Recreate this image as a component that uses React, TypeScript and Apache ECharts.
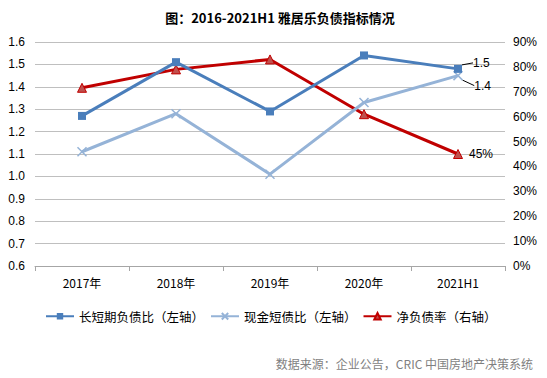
import React, { useEffect, useRef } from "react";
import * as echarts from "echarts";

const categories = ["2017年", "2018年", "2019年", "2020年", "2021H1"];
const longShortRatio = [1.27, 1.51, 1.29, 1.54, 1.48];
const cashShortDebt = [1.11, 1.28, 1.01, 1.33, 1.45];
const netDebtRatio = [71.6, 79, 83, 61, 45];
const leftTicks = { min: 0.6, max: 1.6, interval: 0.1 };
const rightTicks = { min: 0, max: 90, interval: 10 };

const xSymbol = "path://M0,0 L10,10 M10,0 L0,10";

export default function App() {
  const ref = useRef<HTMLDivElement>(null);
  useEffect(() => {
    const chart = echarts.init(ref.current!, null, { renderer: "svg" });
    const font = "'Microsoft YaHei','Noto Sans CJK SC',sans-serif";
    const last = categories.length - 1;
    chart.setOption({
      animation: false,
      title: {
        text: "图：2016-2021H1 雅居乐负债指标情况",
        left: 275,
        textAlign: "center",
        top: 6,
        textStyle: { fontSize: 13, fontWeight: "bold", color: "#000", fontFamily: "'Noto Sans CJK SC',sans-serif" },
      },
      grid: { left: 35, right: 42, top: 42, bottom: 112 },
      legend: {
        top: 305,
        left: 40,
        itemGap: 6,
        itemWidth: 28,
        itemHeight: 8,
        textStyle: { fontSize: 12.5, color: "#000", fontFamily: font },
        data: [
          { name: "长短期负债比（左轴）" },
          { name: "现金短债比（左轴）" },
          { name: "净负债率（右轴）" },
        ],
      },
      graphic: [
        {
          type: "text",
          right: 14,
          top: 357,
          style: {
            text: "数据来源：企业公告，CRIC 中国房地产决策系统",
            fill: "#7f7f7f",
            font: "12px 'Noto Sans CJK SC',sans-serif",
          },
        },
      ],
      xAxis: {
        type: "category",
        data: categories,
        boundaryGap: true,
        axisLine: { lineStyle: { color: "#a6a6a6" } },
        axisTick: { show: true, alignWithLabel: false, length: 5, lineStyle: { color: "#a6a6a6" } },
        axisLabel: { color: "#000", fontSize: 12, margin: 10, fontFamily: font },
      },
      yAxis: [
        {
          type: "value",
          ...leftTicks,
          axisLine: { show: false },
          axisTick: { show: false },
          splitLine: { lineStyle: { color: "#bfbfbf" } },
          axisLabel: { color: "#000", fontSize: 12, margin: 10, formatter: (v: number) => v.toFixed(1) },
        },
        {
          type: "value",
          ...rightTicks,
          position: "right",
          axisLine: { show: false },
          axisTick: { show: false },
          splitLine: { show: false },
          axisLabel: { color: "#000", fontSize: 12, margin: 8, align: "left", formatter: (v: number) => v + "%" },
        },
      ],
      series: [
        {
          name: "长短期负债比（左轴）",
          type: "line",
          yAxisIndex: 0,
          data: longShortRatio.map((v, i) =>
            i === last
              ? {
                  value: v,
                  label: { show: true, formatter: (p: any) => Number(p.value).toFixed(1), position: "right", distance: 11, color: "#000", fontSize: 12 },
                  labelLine: { show: true, lineStyle: { color: "#000", width: 1 } },
                }
              : v
          ),
          labelLayout: { dy: -6 },
          symbol: "rect",
          symbolSize: 8,
          lineStyle: { color: "#4a7ebb", width: 3 },
          itemStyle: { color: "#4a7ebb" },
          z: 3,
        },
        {
          name: "现金短债比（左轴）",
          type: "line",
          yAxisIndex: 0,
          data: cashShortDebt.map((v, i) =>
            i === last
              ? {
                  value: v,
                  label: { show: true, formatter: (p: any) => Number(p.value).toFixed(1), position: "right", distance: 11, color: "#000", fontSize: 12 },
                  labelLine: { show: true, lineStyle: { color: "#000", width: 1 } },
                }
              : v
          ),
          labelLayout: { dy: 10 },
          symbol: xSymbol,
          symbolSize: 9,
          lineStyle: { color: "#95b3d7", width: 3 },
          itemStyle: { color: "#95b3d7", borderColor: "#95b3d7", borderWidth: 1.5 },
          z: 2,
        },
        {
          name: "净负债率（右轴）",
          type: "line",
          yAxisIndex: 1,
          data: netDebtRatio.map((v, i) =>
            i === last
              ? {
                  value: v,
                  label: { show: true, formatter: (p: any) => Math.round(p.value) + "%", position: "right", distance: 6, color: "#000", fontSize: 12 },
                }
              : v
          ),
          symbol: "triangle",
          symbolSize: 9,
          lineStyle: { color: "#c00000", width: 3 },
          itemStyle: { color: "#c0504d", borderColor: "#c00000", borderWidth: 1 },
          z: 1,
        },
      ],
    });
    return () => chart.dispose();
  }, []);
  return <div ref={ref} style={{ width: 547, height: 378, marginLeft: -8, marginTop: -8, background: "#fff" }} />;
}
